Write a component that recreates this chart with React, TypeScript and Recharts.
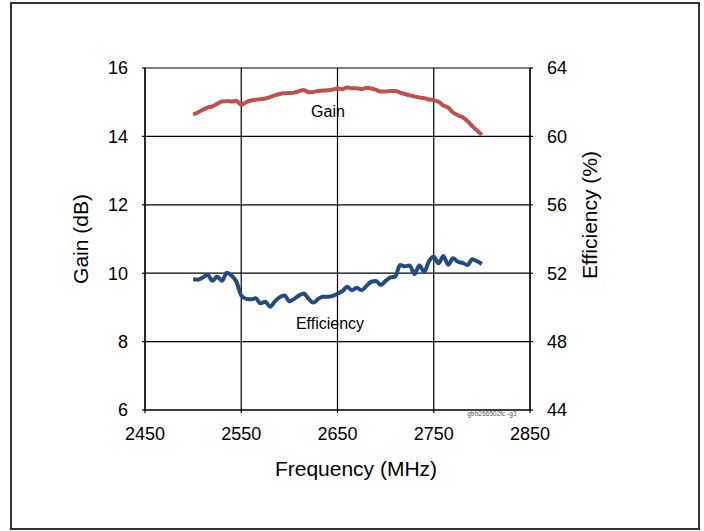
import { CartesianGrid, Line, LineChart, XAxis, YAxis } from "recharts";

const frequencyMhz = [
  2500, 2505, 2510, 2515, 2520, 2525, 2530, 2535, 2540, 2545, 2550, 2555, 2560, 2565, 2570, 2575,
  2580, 2585, 2590, 2595, 2600, 2605, 2610, 2615, 2620, 2625, 2630, 2635, 2640, 2645, 2650, 2655,
  2660, 2665, 2670, 2675, 2680, 2685, 2690, 2695, 2700, 2705, 2710, 2715, 2720, 2725, 2730, 2735,
  2740, 2745, 2750, 2755, 2760, 2765, 2770, 2775, 2780, 2785, 2790, 2795, 2800,
];

const gainDb = [
  14.64, 14.7, 14.78, 14.84, 14.88, 14.95, 15.02, 15.03, 15.02, 15.04, 14.92, 15.0, 15.05, 15.07,
  15.09, 15.11, 15.15, 15.2, 15.24, 15.26, 15.27, 15.28, 15.32, 15.36, 15.29, 15.3, 15.33, 15.34,
  15.35, 15.37, 15.4, 15.38, 15.43, 15.41, 15.41, 15.38, 15.42, 15.4, 15.36, 15.31, 15.31, 15.33,
  15.33, 15.28, 15.24, 15.2, 15.17, 15.14, 15.12, 15.08, 15.06, 15.01, 14.9, 14.84, 14.7, 14.62,
  14.56, 14.45, 14.3, 14.17, 14.04,
];

const efficiencyPct = [
  51.64, 51.62, 51.75, 51.91, 51.56, 51.8, 51.56, 52.03, 51.85, 51.5, 50.7, 50.5, 50.47, 50.53,
  50.24, 50.33, 50.04, 50.35, 50.6, 50.7, 50.35, 50.5, 50.7, 50.82, 50.5, 50.28, 50.5, 50.63,
  50.62, 50.67, 50.8, 50.95, 51.21, 51.0, 51.15, 51.0, 51.25, 51.5, 51.55, 51.31, 51.55, 51.75,
  51.8, 52.48, 52.4, 52.45, 51.95, 52.45, 52.09, 52.7, 52.96, 52.58, 53.0, 52.5, 52.87, 52.67,
  52.6, 52.48, 52.81, 52.7, 52.54,
];

const xTicks = [2450, 2550, 2650, 2750, 2850];
const gainTicks = [6, 8, 10, 12, 14, 16];
const efficiencyTicks = [44, 48, 52, 56, 60, 64];

const chartData = frequencyMhz.map((f, i) => ({
  frequency: f,
  gain: gainDb[i],
  efficiency: efficiencyPct[i],
}));

const FONT = "'Liberation Sans', Arial, sans-serif";
const tickStyle = { fill: "#000", fontSize: 18, fontFamily: FONT };

export default function App() {
  return (
    <div style={{ position: "absolute", left: 0, top: 0, width: 704, height: 531, background: "#fff" }}>
      <div
        style={{
          position: "absolute",
          left: 10,
          top: 2,
          width: 690,
          height: 528,
          border: "2px solid #333",
          boxSizing: "border-box",
        }}
      />
      <div style={{ position: "absolute", left: 0, top: 0 }}>
        <LineChart
          width={704}
          height={531}
          data={chartData}
          margin={{ top: 68, right: 114, bottom: 81, left: 85 }}
        >
          <CartesianGrid
            yAxisId="gain"
            stroke="#000"
            strokeWidth={1.2}
            horizontalValues={gainTicks}
            verticalValues={xTicks}
          />
          <XAxis
            dataKey="frequency"
            type="number"
            domain={[2450, 2850]}
            ticks={xTicks}
            height={40}
            tick={tickStyle}
            tickSize={3}
            tickMargin={14}
            stroke="#000"
            strokeWidth={1.2}
          />
          <YAxis
            yAxisId="gain"
            domain={[6, 16]}
            ticks={gainTicks}
            width={60}
            tick={tickStyle}
            tickSize={3}
            tickMargin={14}
            stroke="#000"
            strokeWidth={1.2}
          />
          <YAxis
            yAxisId="eff"
            orientation="right"
            domain={[44, 64]}
            ticks={efficiencyTicks}
            width={60}
            tick={{ ...tickStyle, textAnchor: "start" }}
            tickSize={3}
            tickMargin={14}
            stroke="#000"
            strokeWidth={1.2}
          />
          <Line
            yAxisId="gain"
            type="monotone"
            dataKey="gain"
            stroke="#c0504d"
            strokeWidth={4}
            dot={false}
            isAnimationActive={false}
          />
          <Line
            yAxisId="eff"
            type="monotone"
            dataKey="efficiency"
            stroke="#234b82"
            strokeWidth={4}
            dot={false}
            isAnimationActive={false}
          />
        </LineChart>
      </div>
      <svg
        width={704}
        height={531}
        style={{ position: "absolute", left: 0, top: 0, pointerEvents: "none" }}
        fontFamily={FONT}
      >
        <text x={356} y={468} textAnchor="middle" dominantBaseline="central" fontSize={21} fill="#000">
          Frequency (MHz)
        </text>
        <text
          x={80}
          y={239}
          textAnchor="middle"
          dominantBaseline="central"
          fontSize={21}
          fill="#000"
          transform="rotate(-90 80 239)"
        >
          Gain (dB)
        </text>
        <text
          x={589}
          y={215}
          textAnchor="middle"
          dominantBaseline="central"
          fontSize={21}
          fill="#000"
          transform="rotate(-90 589 215)"
        >
          Efficiency (%)
        </text>
        <text x={328} y={111} textAnchor="middle" dominantBaseline="central" fontSize={16} fill="#000">
          Gain
        </text>
        <text x={330} y={323} textAnchor="middle" dominantBaseline="central" fontSize={16} fill="#000">
          Efficiency
        </text>
        <text x={492} y={413} textAnchor="middle" dominantBaseline="central" fontSize={6.5} fill="#555">
          gtrb266502fc -g3
        </text>
      </svg>
    </div>
  );
}
